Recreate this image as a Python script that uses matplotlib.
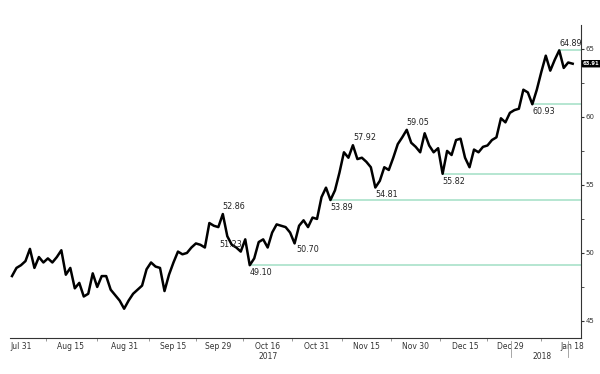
import matplotlib
matplotlib.use("Agg")
import matplotlib.pyplot as plt
import numpy as np

# daily closes, trading-day index 0 = Jul 27 2017 ... 125 = Jan 18 2018
closes = [48.3, 48.9, 49.1, 49.4, 50.3, 48.9, 49.7, 49.3, 49.6, 49.3,
          49.7, 50.2, 48.4, 48.9, 47.4, 47.8, 46.8, 47.0, 48.5, 47.5,
          48.3, 48.3, 47.3, 46.9, 46.5, 45.9, 46.5, 47.0, 47.3, 47.6,
          48.8, 49.3, 49.0, 48.9, 47.2, 48.4, 49.3, 50.1, 49.9, 50.0,
          50.4, 50.7, 50.6, 50.4, 52.2, 52.0, 51.9, 52.86, 51.23, 50.6,
          50.4, 50.1, 51.0, 49.10, 49.6, 50.8, 51.0, 50.4, 51.5, 52.1,
          52.0, 51.9, 51.5, 50.70, 52.0, 52.4, 51.9, 52.6, 52.5, 54.1,
          54.8, 53.89, 54.6, 55.9, 57.4, 57.0, 57.92, 56.9, 57.0, 56.7,
          56.3, 54.81, 55.3, 56.3, 56.1, 57.0, 58.0, 58.5, 59.05, 58.1,
          57.8, 57.4, 58.8, 57.9, 57.4, 57.7, 55.82, 57.5, 57.2, 58.3,
          58.4, 57.0, 56.3, 57.6, 57.4, 57.8, 57.9, 58.3, 58.5, 59.9,
          59.6, 60.3, 60.5, 60.6, 62.0, 61.8, 60.93, 62.0, 63.3, 64.5,
          63.4, 64.2, 64.89, 63.6, 64.0, 63.91]

# month/day labels on the x axis
date_labels = ["Jul 31", "Aug 15", "Aug 31", "Sep 15", "Sep 29", "Oct 16",
               "Oct 31", "Nov 15", "Nov 30", "Dec 15", "Dec 29", "Jan 18"]
date_idx = [2, 13, 25, 36, 46, 57, 68, 79, 90, 101, 111, 125]

# support lines (start index, level)
support_idx = [53, 71, 96, 116, 122]
support_lvl = [49.10, 53.89, 55.82, 60.93, 64.89]

# swing annotations (index, value, where)
ann_idx = [47, 48, 53, 63, 71, 76, 81, 88, 96, 116, 122]
ann_val = [52.86, 51.23, 49.10, 50.70, 53.89, 57.92, 54.81, 59.05, 55.82, 60.93, 64.89]
ann_pos = ["up", "left", "down", "right", "down", "up", "down", "up", "down", "down", "up"]

last_price = 63.91

fig = plt.figure(figsize=(6, 3.74), dpi=100)
ax = fig.add_axes([0.0167, 0.0963, 0.952, 0.837])

x = np.arange(len(closes))
green = "#a9e2c9"
for i0, lvl in zip(support_idx, support_lvl):
    ax.plot([i0, 127], [lvl, lvl], color=green, lw=1.2, zorder=1)

ax.plot(x, closes, color="black", lw=1.8, zorder=3)

offsets = {"up": ((0, 2), "bottom"), "down": ((0, -2), "top"),
           "right": ((1, -1), "top"), "left": ((-6, -3), "top")}
for i, v, p in zip(ann_idx, ann_val, ann_pos):
    off, va = offsets[p]
    ax.annotate(f"{v:.2f}", (i, v), xytext=off, textcoords="offset points",
                fontsize=5.8, ha="left", va=va, color="#222222")

ax.set_xlim(-0.44, 126.9)
ax.set_ylim(43.75, 66.76)

for s in ["top", "left"]:
    ax.spines[s].set_visible(False)
ax.spines["right"].set_color("#333333")
ax.spines["bottom"].set_color("#333333")
ax.spines["right"].set_linewidth(0.8)
ax.spines["bottom"].set_linewidth(0.8)

ax.yaxis.tick_right()
ax.set_yticks([45, 50, 55, 60, 65])
ax.set_yticks([47.5, 52.5, 57.5, 62.5], minor=True)
ax.tick_params(axis="y", which="major", labelsize=5, length=2, pad=1, colors="#333333")
ax.tick_params(axis="y", which="minor", length=2, colors="#333333")

ax.set_xticks(date_idx)
ax.set_xticklabels(date_labels)
mids = [(a + b) / 2 for a, b in zip(date_idx[:-1], date_idx[1:])]
ax.set_xticks(mids, minor=True)
ax.tick_params(axis="x", which="major", length=0, labelsize=5.5, pad=3, colors="#333333")
ax.tick_params(axis="x", which="minor", length=2.5, color="#888888")

# year labels and separators
ax.text(0.4525, -0.046, "2017", transform=ax.transAxes, fontsize=5.5,
        ha="center", va="top", color="#333333")
ax.text(0.932, -0.046, "2018", transform=ax.transAxes, fontsize=5.5,
        ha="center", va="top", color="#333333")
for xi in [111.3, 124.0]:
    ax.plot([xi, xi], [-0.01, -0.06], color="#999999", lw=0.6,
            transform=ax.get_xaxis_transform(), clip_on=False)

ax.annotate(f"{last_price:.2f}", (1.0, last_price), xycoords=("axes fraction", "data"),
            xytext=(1.2, 0), textcoords="offset points", fontsize=3.8, color="white",
            ha="left", va="center", fontweight="bold",
            bbox=dict(boxstyle="round,pad=0.1", fc="black", ec="black"))

fig.savefig("out.png", dpi=100, facecolor="white")
